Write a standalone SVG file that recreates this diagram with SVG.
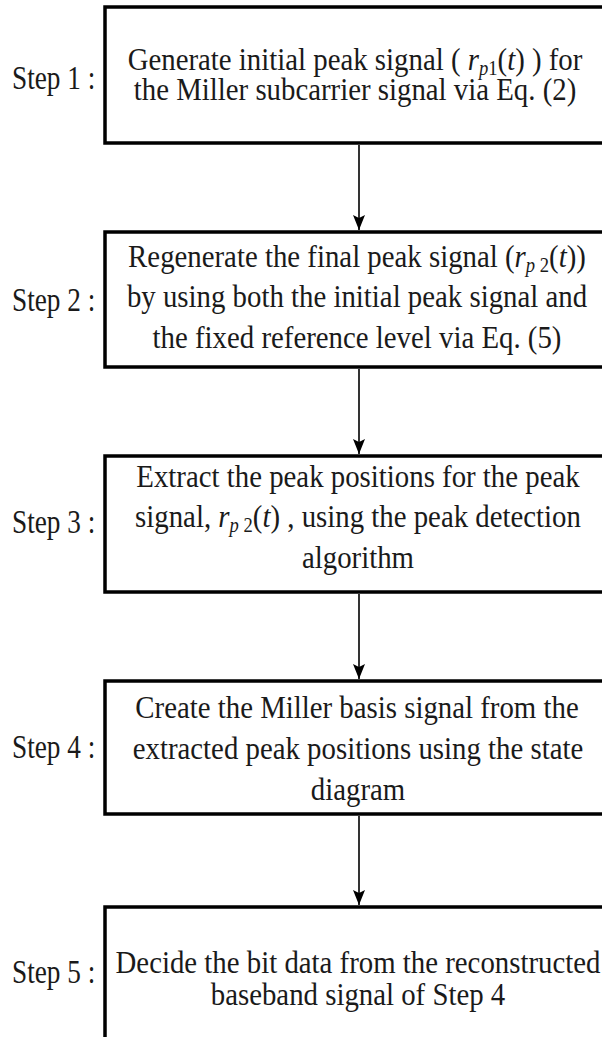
<svg xmlns="http://www.w3.org/2000/svg" width="602" height="1037" viewBox="0 0 602 1037">
<defs>
<style>
.box{fill:#fff;stroke:#000;stroke-width:3.5}
.t{font-family:"Liberation Serif","Times New Roman",serif;font-size:31px;fill:#1a1a1a;text-anchor:middle}
.lab{font-family:"Liberation Serif","Times New Roman",serif;font-size:31px;fill:#1a1a1a}
.i{font-style:italic}
.s{font-size:20px}
.conn{stroke:#000;stroke-width:1.6;fill:none;marker-end:url(#ah)}
</style>
<marker id="ah" markerUnits="userSpaceOnUse" markerWidth="15" markerHeight="12" viewBox="0 0 15 12" refX="15" refY="6" orient="auto">
<path d="M0,0 L15,6 L0,12 L3,6 z" fill="#000"/>
</marker>
</defs>
<rect width="602" height="1037" fill="#fff"/>
<g id="connectors">
<line class="conn" x1="359" y1="145" x2="359" y2="230"/>
<line class="conn" x1="359" y1="369" x2="359" y2="454"/>
<line class="conn" x1="359" y1="594" x2="359" y2="679"/>
<line class="conn" x1="359" y1="816" x2="359" y2="905"/>
</g>
<g id="step1">
<rect class="box" x="105" y="7" width="515" height="136"/>
<text class="lab" transform="translate(12,89) scale(0.88,1.12)">Step 1 :</text>
<text class="t" transform="translate(355,70) scale(0.93,1)">Generate initial peak signal ( <tspan class="i">r</tspan><tspan class="s i" dy="5">p</tspan><tspan class="s">1</tspan><tspan dy="-5">(</tspan><tspan class="i">t</tspan>) ) for</text>
<text class="t" transform="translate(355,100) scale(0.93,1)">the Miller subcarrier signal via Eq. (2)</text>
</g>
<g id="step2">
<rect class="box" x="105" y="232" width="515" height="135"/>
<text class="lab" transform="translate(12,311) scale(0.88,1.12)">Step 2 :</text>
<text class="t" transform="translate(357,267) scale(0.93,1)">Regenerate the final peak signal (<tspan class="i">r</tspan><tspan class="s i" dy="5">p</tspan><tspan class="s"> 2</tspan><tspan dy="-5">(</tspan><tspan class="i">t</tspan>))</text>
<text class="t" transform="translate(357,307) scale(0.93,1)">by using both the initial peak signal and</text>
<text class="t" transform="translate(357,348) scale(0.93,1)">the fixed reference level via Eq. (5)</text>
</g>
<g id="step3">
<rect class="box" x="105" y="456" width="515" height="136"/>
<text class="lab" transform="translate(12,533) scale(0.88,1.12)">Step 3 :</text>
<text class="t" transform="translate(358,487) scale(0.93,1)">Extract the peak positions for the peak</text>
<text class="t" transform="translate(358,527) scale(0.93,1)">signal, <tspan class="i">r</tspan><tspan class="s i" dy="5">p</tspan><tspan class="s"> 2</tspan><tspan dy="-5">(</tspan><tspan class="i">t</tspan>) , using the peak detection</text>
<text class="t" transform="translate(358,568) scale(0.93,1)">algorithm</text>
</g>
<g id="step4">
<rect class="box" x="105" y="681" width="515" height="133"/>
<text class="lab" transform="translate(12,758) scale(0.88,1.12)">Step 4 :</text>
<text class="t" transform="translate(357,718) scale(0.93,1)">Create the Miller basis signal from the</text>
<text class="t" transform="translate(358,759) scale(0.93,1)">extracted peak positions using the state</text>
<text class="t" transform="translate(358,800) scale(0.93,1)">diagram</text>
</g>
<g id="step5">
<rect class="box" x="105" y="907" width="515" height="150"/>
<text class="lab" transform="translate(12,983) scale(0.88,1.12)">Step 5 :</text>
<text class="t" transform="translate(358,973) scale(0.93,1)">Decide the bit data from the reconstructed</text>
<text class="t" transform="translate(358,1005) scale(0.93,1)">baseband signal of Step 4</text>
</g>
</svg>
